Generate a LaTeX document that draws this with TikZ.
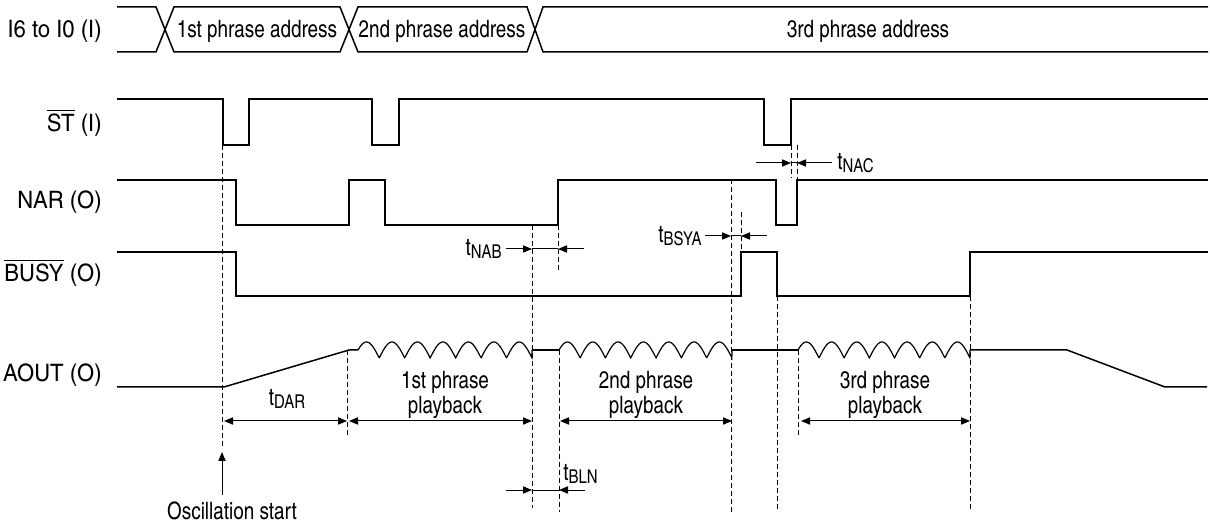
\documentclass[tikz,border=0pt]{standalone}
\usepackage{fontspec}
\setmainfont{texgyreheroscn}[Extension=.otf,UprightFont=*-regular,BoldFont=*-bold,FakeStretch=0.96]
\newfontfamily\sigfont{texgyreheroscn}[Extension=.otf,UprightFont=*-regular,FakeStretch=1.12]
\usepackage{tikz}
\usetikzlibrary{positioning,arrows.meta}
\newcommand{\tparam}[1]{t\raisebox{-1.3pt}{\fontsize{9.5}{9.5}\selectfont #1}}

\begin{document}
\begin{tikzpicture}[x=0.5pt,y=-0.5pt,
            signal/.style={line width=0.75pt,line join=miter},
            guide/.style={line width=0.45pt,dash pattern=on 2.5pt off 1.5pt},
            dim/.style={line width=0.5pt,{Triangle[length=4.5pt,width=3.6pt]}-{Triangle[length=4.5pt,width=3.6pt]}},
            gap/.style={line width=0.5pt,-{Triangle[length=4.5pt,width=3.6pt]}},
            lbl/.style={font=\fontsize{12}{12.5}\selectfont,inner sep=0pt},
            sig/.style={lbl,font=\fontsize{12}{12.5}\selectfont\sigfont,anchor=east}]
            \useasboundingbox (0,0) rectangle (1210,523);
            % signal names
            \node[sig] (lblbus) at (102,31) {I6 to I0 (I)};
            \node[sig] (lblst) at (102,123) {$\overline{\hbox{ST}}$ (I)};
            \node[sig] (lblnar) at (102,202) {NAR (O)};
            \node[sig] (lblbusy) at (102,273) {$\overline{\hbox{BUSY}}$ (O)};
            \node[sig] (lblaout) at (102,375) {AOUT (O)};
            % address bus
            \draw[signal] (117,7) -- (156,7) -- (174,52) -- (340,52) -- (358,7) -- (527,7) -- (543,52) -- (1208,52);
            \draw[signal] (117,52) -- (156,52) -- (174,7) -- (340,7) -- (358,52) -- (527,52) -- (543,7) -- (1208,7);
            \node[lbl] (addr1) at (257,31) {1st phrase address};
            \node[lbl] (addr2) at (442,31) {2nd phrase address};
            \node[lbl] (addr3) at (868,31) {3rd phrase address};
            % ST, NAR, BUSY
            \draw[signal] (117,99) -- (223,99) |- (249,145) |- (372,99) |- (399,145) |- (764,99) |- (791,145) |- (1208,99);
            \draw[signal] (117,180) -- (236,180) |- (349,225) |- (385,180) |- (558,225) |- (776,180) |- (797,225) |- (1208,180);
            \draw[signal] (117,252) -- (236,252) |- (741,296) |- (777,252) |- (970,296) |- (1208,252);
            % AOUT
            \draw[signal] (117,387) -- (224,387) -- (349,350) -- (358,350);
            \draw[signal] (532,350) -- (559,350);
            \draw[signal] (732,350) -- (798,350);
            \draw[signal] (970,350) -- (1067,350) -- (1165,387) -- (1207,387);
            \foreach \s/\e in {358/532, 559/732, 798/970}
                \draw[signal,line width=0.6pt] plot[domain=0:1,samples=300] ({\s+\x*(\e-\s)},{358-16*abs(sin(30+\x*1230))}) -- (\e,350);
            % guide lines
            \foreach \x/\ya/\yb in {222/145/448, 347/350/435, 532/225/508, 558/225/270, 559/350/512,
                    731/179/512, 741/212/251, 777/296/512, 791/145/178, 797/145/179, 798/350/435, 970/296/512}
                \draw[guide] (\x,\ya) -- (\x,\yb);
            % playback spans
            \draw[dim] (224,421) -- (347,421);
            \draw[dim] (349,421) -- (532,421);
            \draw[dim] (560,421) -- (732,421);
            \draw[dim] (801,421) -- (970,421);
            \node[lbl] (tdar) at (287,399) {\tparam{DAR}};
            \node[lbl,align=center] (play1) at (445,395) {1st phrase\\playback};
            \node[lbl,align=center] (play2) at (646,395) {2nd phrase\\playback};
            \node[lbl,align=center] (play3) at (885,395) {3rd phrase\\playback};
            % short delays
            \foreach \y/\a/\b/\l in {249/532/558/26, 236/731/741/26, 163/791/797/35, 490/532/559/26} {
                \draw[gap] ({\a-\l},\y) -- (\a,\y);
                \draw[line width=0.5pt] (\a,\y) -- (\b,\y);
                \draw[gap] ({\b+\l},\y) -- (\b,\y);
            }
            \node[lbl,anchor=east] (tnab) at (502,249) {\tparam{NAB}};
            \node[lbl,anchor=east] (tbsya) at (702,236) {\tparam{BSYA}};
            \node[lbl,anchor=west] (tnac) at (837,163) {\tparam{NAC}};
            \node[lbl,anchor=west] (tbln) at (563,474) {\tparam{BLN}};
            % oscillation start
            \node[lbl] (osc) at (232,511) {Oscillation start};
            \coordinate (oscstart) at (222,452);
            \draw[gap] (oscstart |- 0,495) -- (oscstart);
        \end{tikzpicture}
\end{document}
